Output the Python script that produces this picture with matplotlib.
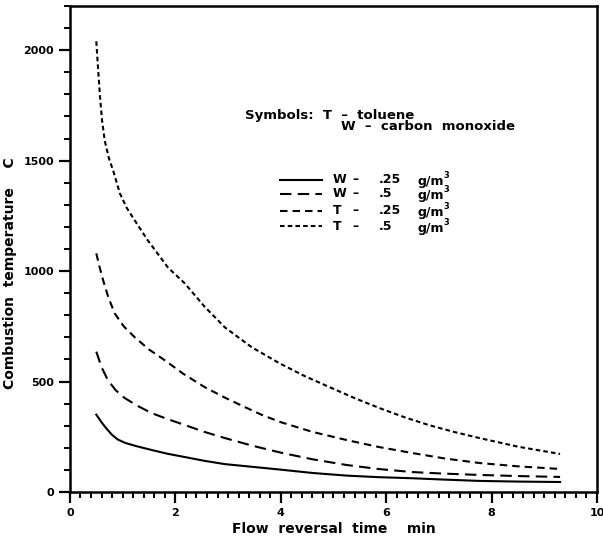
import matplotlib
matplotlib.use('Agg')
import matplotlib.pyplot as plt
from matplotlib.ticker import MultipleLocator

# Values
x_w25 = [0.5, 0.6, 0.7, 0.8, 0.91, 1.05, 1.25, 1.55, 1.85, 2.18, 2.55, 2.94,
         3.45, 4.0, 4.6, 5.25, 5.85, 6.5, 7.1, 7.77, 8.5, 9.3]
y_w25 = [350, 315, 285, 258, 237, 222, 208, 190, 173, 158, 141, 126,
         114, 101, 86, 74, 67, 62, 56, 50, 47, 45]

x_w5 = [0.5, 0.6, 0.72, 0.87, 1.04, 1.28, 1.55, 1.85, 2.18, 2.55, 2.94, 3.45,
        4.0, 4.6, 5.25, 5.85, 6.5, 7.1, 7.77, 8.5, 9.3]
y_w5 = [635, 565, 506, 460, 425, 390, 357, 330, 303, 272, 244, 210,
        178, 148, 122, 104, 90, 83, 77, 72, 68]

x_t25 = [0.5, 0.56, 0.63, 0.73, 0.85, 1.02, 1.23, 1.5, 1.8, 2.15, 2.56, 2.94,
         3.32, 3.65, 4.0, 4.6, 5.25, 5.85, 6.5, 7.1, 7.77, 8.5, 9.3]
y_t25 = [1080, 1020, 958, 880, 808, 750, 700, 645, 596, 535, 474, 427,
         384, 348, 316, 272, 235, 204, 176, 152, 131, 116, 104]

x_t5 = [0.5, 0.53, 0.57, 0.61, 0.66, 0.74, 0.82, 0.95, 1.08, 1.23, 1.48, 1.86,
        2.18, 2.55, 2.94, 3.45, 3.98, 4.45, 4.93, 5.4, 5.88, 6.35, 6.82, 7.3,
        7.77, 8.5, 9.3]
y_t5 = [2040, 1930, 1790, 1680, 1590, 1510, 1455, 1350, 1285, 1229, 1138, 1016,
        944, 840, 745, 655, 582, 525, 474, 425, 379, 338, 302, 271,
        244, 205, 172]

series_labels = ['W', 'W', 'T', 'T']
series_conc = ['.25', '.5', '.25', '.5']
styles = ['-', (0, (5.5, 3)), (0, (3.6, 2.4)), (0, (2.2, 1.5))]

plt.rcParams['font.family'] = ['DejaVu Sans']
plt.rcParams['font.weight'] = 'bold'

fig = plt.figure(figsize=(6.03, 5.43), dpi=100)
ax = fig.add_axes([0.116, 0.094, 0.874, 0.895])

lw = 1.5
data = [(x_w25, y_w25), (x_w5, y_w5), (x_t25, y_t25), (x_t5, y_t5)]
for (xs, ys), ls in zip(data, styles):
    ax.plot(xs, ys, color='black', linewidth=lw, linestyle=ls)

ax.set_xlim(0, 10)
ax.set_ylim(0, 2200)
ax.xaxis.set_major_locator(MultipleLocator(2))
ax.xaxis.set_minor_locator(MultipleLocator(0.2))
ax.yaxis.set_major_locator(MultipleLocator(500))
ax.yaxis.set_minor_locator(MultipleLocator(100))
ax.tick_params(which='major', direction='out', length=8, width=1.6,
               labelsize=8, top=False, right=False)
ax.tick_params(which='minor', direction='out', length=4.5, width=1.4,
               top=False, right=False)
for lab in ax.get_xticklabels() + ax.get_yticklabels():
    lab.set_fontweight('bold')
for sp in ax.spines.values():
    sp.set_linewidth(1.8)

ax.set_xlabel('Flow  reversal  time    min', fontsize=10, fontweight='bold', labelpad=3)
ax.set_ylabel('Combustion  temperature    C', fontsize=10, fontweight='bold')
ax.yaxis.set_label_coords(-0.1, 0.45)

# Symbols note
ax.text(3.32, 1703, 'Symbols:  T  \u2013  toluene', fontsize=9.5, fontweight='bold', va='center')
ax.text(5.15, 1653, 'W  \u2013  carbon  monoxide', fontsize=9.5, fontweight='bold', va='center')

# Legend
leg_y = [1414, 1351, 1274, 1202]
for i, (ls, yl) in enumerate(zip(styles, leg_y)):
    ax.plot([3.98, 4.78], [yl, yl], color='black', linewidth=lw, linestyle=ls)
    ax.text(4.99, yl, series_labels[i], fontsize=9, fontweight='bold', va='center')
    ax.text(5.35, yl, '\u2013', fontsize=9, fontweight='bold', va='center')
    ax.text(5.85, yl, series_conc[i], fontsize=9, fontweight='bold', va='center')
    ax.text(6.6, yl - 8, 'g/m', fontsize=9, fontweight='bold', va='center')
    ax.text(7.08, yl + 20, '3', fontsize=6, fontweight='bold', va='center')

fig.savefig('out.png', dpi=100)
